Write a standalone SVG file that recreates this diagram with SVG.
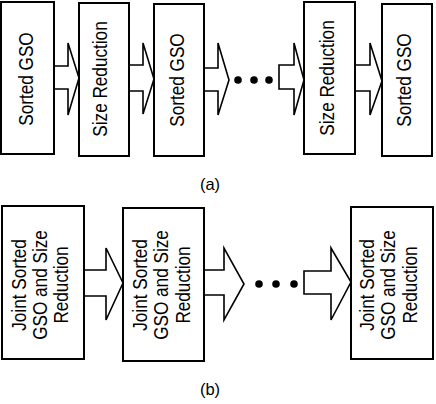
<svg xmlns="http://www.w3.org/2000/svg" width="436" height="404" viewBox="0 0 436 404">
<style>
.box{fill:#fff;stroke:#000;stroke-width:2}
.arr{fill:#fff;stroke:#000;stroke-width:1.6;stroke-linejoin:miter}
.dot{fill:#000}
text{font-family:"Liberation Sans",Arial,sans-serif;font-size:19.5px;fill:#000;text-anchor:middle}
.lbl{font-size:16.5px}
</style>
<rect width="436" height="404" fill="#fff"/>
<g id="connectors">
<polygon class="arr" points="53,66 68,66 68,43 79,78 68,115 68,89 53,89"/>
<polygon class="arr" points="129,65 143,65 143,43 154,79 143,114 143,91 129,91"/>
<polygon class="arr" points="204,68 218,68 218,43 229,80 218,115 218,91 204,91"/>
<polygon class="arr" points="279,65 294,65 294,43 304,80 294,115 294,89 279,89"/>
<polygon class="arr" points="355,65 370,65 370,43 382,81 370,115 370,91 355,91"/>
<circle class="dot" cx="238" cy="80" r="3.8"/>
<circle class="dot" cx="254" cy="80" r="3.8"/>
<circle class="dot" cx="269" cy="80" r="3.8"/>
<polygon class="arr" points="83,270 106,270 106,248 123,283 106,320 106,296 83,296"/>
<polygon class="arr" points="204,270 224,270 224,248 244,284 224,320 224,295 204,295"/>
<polygon class="arr" points="304,271 331,271 331,248 351,282 331,320 331,294 304,294"/>
<circle class="dot" cx="259" cy="284" r="3.8"/>
<circle class="dot" cx="276" cy="284" r="3.8"/>
<circle class="dot" cx="294" cy="284" r="3.8"/>
</g>
<g id="a1"><rect class="box" x="1" y="2" width="53" height="152"/><text transform="translate(33,79) rotate(-90) scale(0.88,1)">Sorted GSO</text></g>
<g id="a2"><rect class="box" x="79" y="3" width="50" height="153"/><text transform="translate(107,79) rotate(-90) scale(0.88,1)">Size Reduction</text></g>
<g id="a3"><rect class="box" x="154" y="4" width="50" height="152"/><text transform="translate(184,80) rotate(-90) scale(0.88,1)">Sorted GSO</text></g>
<g id="a4"><rect class="box" x="304" y="2" width="51" height="152"/><text transform="translate(334,78) rotate(-90) scale(0.88,1)">Size Reduction</text></g>
<g id="a5"><rect class="box" x="382" y="4" width="50" height="152"/><text transform="translate(411,80) rotate(-90) scale(0.88,1)">Sorted GSO</text></g>
<g id="label-a"><text class="lbl" x="210" y="190">(a)</text></g>
<g id="b1"><rect class="box" x="2" y="206" width="82" height="153"/><text transform="translate(25.5,285) rotate(-90) scale(0.88,1)"><tspan x="0" y="0">Joint Sorted</tspan><tspan x="0" y="21.5">GSO and Size</tspan><tspan x="0" y="43">Reduction</tspan></text></g>
<g id="b2"><rect class="box" x="123" y="208" width="81" height="153"/><text transform="translate(147,285) rotate(-90) scale(0.88,1)"><tspan x="0" y="0">Joint Sorted</tspan><tspan x="0" y="21.5">GSO and Size</tspan><tspan x="0" y="43">Reduction</tspan></text></g>
<g id="b3"><rect class="box" x="351" y="207" width="82" height="152"/><text transform="translate(374,285) rotate(-90) scale(0.88,1)"><tspan x="0" y="0">Joint Sorted</tspan><tspan x="0" y="21.5">GSO and Size</tspan><tspan x="0" y="43">Reduction</tspan></text></g>
<g id="label-b"><text class="lbl" x="210" y="395">(b)</text></g>
</svg>
